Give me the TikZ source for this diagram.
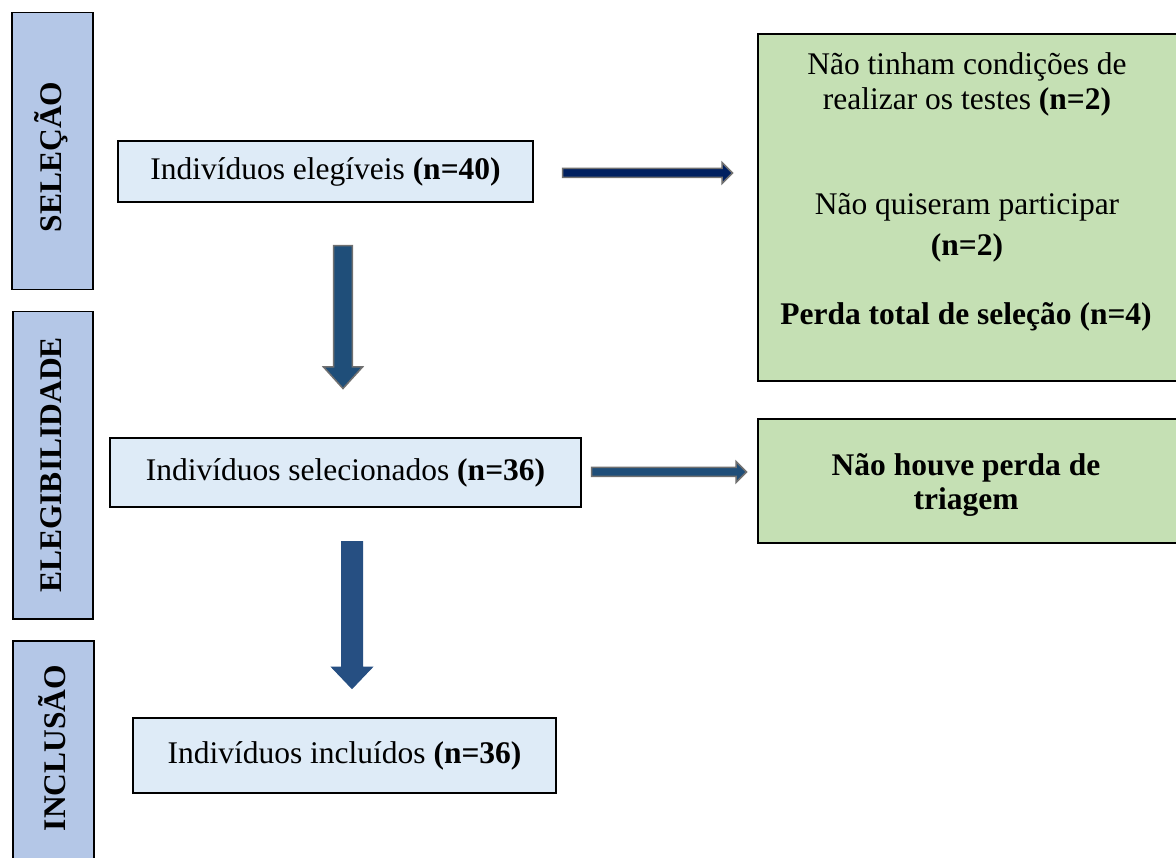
\documentclass[tikz,border=0pt]{standalone}
\usepackage{fontspec}
\setmainfont{Liberation Serif}
\definecolor{barblue}{HTML}{B4C7E7}
\definecolor{boxblue}{HTML}{DEEBF7}
\definecolor{boxgreen}{HTML}{C5E0B4}
\definecolor{navy}{HTML}{002060}
\definecolor{arrblue}{HTML}{1F4E79}
\definecolor{arrblue2}{HTML}{264F82}
\definecolor{arrgray}{HTML}{707070}
\begin{document}
\begin{tikzpicture}[x=1pt,y=-1pt,
  bar/.style={draw=black, line width=1.5pt, fill=barblue, inner sep=0pt, anchor=north west},
  bartxt/.style={font=\fontsize{31.5}{36}\selectfont\bfseries, rotate=90, inner sep=0pt},
  box/.style={draw=black, line width=2pt, fill=boxblue, inner sep=0pt, anchor=north west, font=\fontsize{31.5}{36}\selectfont},
  gbox/.style={draw=black, line width=2pt, fill=boxgreen, inner sep=0pt, anchor=north west},
  txt/.style={font=\fontsize{31.5}{36}\selectfont, inner sep=0pt, anchor=base},
  arrowA/.style={fill=navy, draw=arrgray, line width=1.5pt, line join=miter},
  arrowB/.style={fill=arrblue, draw=arrgray, line width=1.5pt, line join=miter},
  arrowC/.style={fill=arrblue2, draw=arrblue2, line width=1pt, line join=miter}]
\useasboundingbox (0,0) rectangle (1176,858);
\clip (0,0) rectangle (1176,858);
\fill[white] (0,0) rectangle (1176,858);
% stage bars
\node[bar, minimum width=81pt, minimum height=277pt] (selbar) at (11,12) {};
\node[bartxt] (seltxt) at (51,157) {SELEÇÃO};
\node[bar, minimum width=80pt, minimum height=307pt] (elebar) at (12,311) {};
\node[bartxt] (eletxt) at (51,465) {ELEGIBILIDADE};
\node[bar, minimum width=81pt, minimum height=240pt] (incbar) at (12,640) {};
\node[bartxt] (inctxt) at (52,748) {INCLUSÃO};
% main boxes
\node[box, minimum width=415pt, minimum height=61pt] (b1) at (117,140) {Indivíduos elegíveis \textbf{(n=40)}};
\node[box, minimum width=471pt, minimum height=69pt] (b2) at (109,437) {Indivíduos selecionados \textbf{(n=36)}};
\node[box, minimum width=423pt, minimum height=75pt] (b3) at (132,717) {Indivíduos incluídos \textbf{(n=36)}};
% right boxes
\node[gbox, minimum width=422pt, minimum height=347pt] (g1) at (757,33) {};
\node[txt] (g1a) at (967,75) {Não tinham condições de};
\node[txt] (g1b) at (967,110) {realizar os testes \textbf{(n=2)}};
\node[txt] (g1c) at (967,215) {Não quiseram participar};
\node[txt] (g1d) at (967,256) {\textbf{(n=2)}};
\node[txt] (g1e) at (966,325) {\textbf{Perda total de seleção (n=4)}};
\node[gbox, minimum width=422pt, minimum height=124pt] (g2) at (757,418) {};
\node[txt] (g2a) at (966,476) {\textbf{Não houve perda de}};
\node[txt] (g2b) at (966,510) {\textbf{triagem}};
% block arrows
\filldraw[arrowA] (562.7,168.5) -- (722,168.5) -- (722,162.5) -- (732.5,173) -- (722,183.5) -- (722,177.5) -- (562.7,177.5) -- cycle;
\filldraw[arrowB] (333.7,245.7) -- (352.3,245.7) -- (352.3,367) -- (362.5,367) -- (343,388.5) -- (323.5,367) -- (333.7,367) -- cycle;
\filldraw[arrowB] (591.7,467.5) -- (736,467.5) -- (736,461.5) -- (746.5,472) -- (736,482.5) -- (736,476.5) -- (591.7,476.5) -- cycle;
\filldraw[arrowC] (341.5,541.5) -- (362.5,541.5) -- (362.5,667) -- (372.5,667) -- (352,688.5) -- (331.5,667) -- (341.5,667) -- cycle;
\end{tikzpicture}
\end{document}
